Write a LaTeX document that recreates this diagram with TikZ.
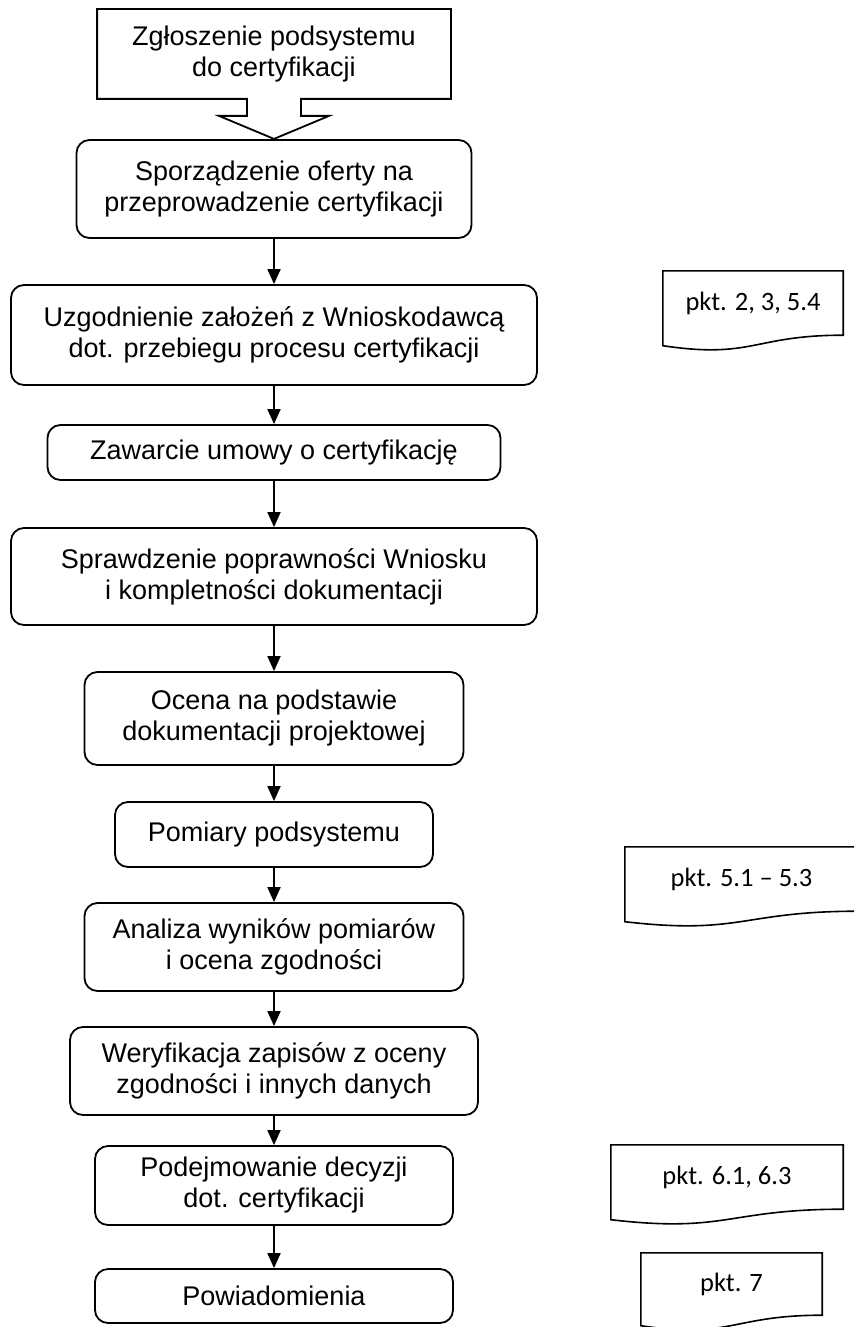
\documentclass[tikz,border=0pt]{standalone}
\usepackage{fontspec}
\setmainfont{Liberation Sans}
\newfontfamily\calibri{Carlito}
\usetikzlibrary{arrows.meta,calc}

% document symbol with a wavy lower edge
\newcommand{\dokpath}[1]{%
  \draw[line width=1.6pt] (#1.north west) -- (#1.north east) -- (#1.south east)
    .. controls (#1.south) and ($(#1.south)+(0,24)$) .. ($(#1.south west)+(0,10.5)$) -- cycle;}

\begin{document}
\begin{tikzpicture}[x=1pt,y=-1pt,
    box/.style={draw, line width=1.8pt, rounded corners=13pt, align=center, inner sep=0pt,
                font=\fontsize{27}{31}\selectfont},
    dok/.style={inner sep=0pt, minimum height=64pt, font=\calibri\fontsize{26.5}{31}\selectfont},
    arr/.style={line width=1.8pt, -{Triangle[width=13pt,length=15pt]}}]
    \useasboundingbox (0,0) rectangle (854,1327);
    \clip (0,0) rectangle (854,1327);

    \node[box, draw=none, minimum width=352pt, minimum height=88pt] (zgl) at (274,54) {Zgłoszenie podsystemu\\do certyfikacji};
    \draw[line width=1.8pt] (zgl.south west) -- (zgl.north west) -- (zgl.north east) -- (zgl.south east)
        -- ($(zgl.south)+(27,0)$) -- ++(0,17) -- ++(28,0) -- ($(zgl.south)+(0,40)$)
        -- ($(zgl.south)+(-55,17)$) -- ++(28,0) -- ++(0,-17) -- cycle;

    \node[box, minimum width=395pt, minimum height=98pt] (ofer) at (274,189) {Sporządzenie oferty na\\przeprowadzenie certyfikacji};
    \node[box, minimum width=526pt, minimum height=100pt] (uzg) at (274,335) {Uzgodnienie założeń z Wnioskodawcą\\dot. przebiegu procesu certyfikacji};
    \node[box, minimum width=453pt, minimum height=55pt] (umowa) at (274,452.5) {Zawarcie umowy o certyfikację};
    \node[box, minimum width=526pt, minimum height=97pt] (spr) at (274,576.5) {Sprawdzenie poprawności Wniosku\\i kompletności dokumentacji};
    \node[box, minimum width=379pt, minimum height=93pt] (ocena) at (274,718.5) {Ocena na podstawie\\dokumentacji projektowej};
    \node[box, minimum width=318pt, minimum height=65pt] (pom) at (274,834.5) {Pomiary podsystemu};
    \node[box, minimum width=379pt, minimum height=88pt] (anal) at (274,947) {Analiza wyników pomiarów\\i ocena zgodności};
    \node[box, minimum width=408pt, minimum height=88pt] (wer) at (274,1071) {Weryfikacja zapisów z oceny\\zgodności i innych danych};
    \node[box, minimum width=358pt, minimum height=79pt] (decyzja) at (274,1185.5) {Podejmowanie decyzji\\dot. certyfikacji};
    \node[box, minimum width=358pt, minimum height=54pt] (powiad) at (274,1296) {Powiadomienia};

    \foreach \a/\b in {ofer/uzg, uzg/umowa, umowa/spr, spr/ocena, ocena/pom, pom/anal, anal/wer, wer/decyzja, decyzja/powiad}
        \draw[arr] (\a.south) -- (\a.south |- \b.north);

    % references to the procedure
    \node[dok, minimum width=180pt] (pkt1) at (753,303) {pkt. 2, 3, 5.4};
    \node[dok, minimum width=233pt] (pkt2) at (741.5,879) {pkt. 5.1 – 5.3};
    \node[dok, minimum width=232pt] (pkt3) at (727,1177) {pkt. 6.1, 6.3};
    \node[dok, minimum width=181pt, minimum height=62pt] (pkt4) at (731.5,1284) {pkt. 7};
    \foreach \d in {pkt1,pkt2,pkt3,pkt4}
        \dokpath{\d};
\end{tikzpicture}
\end{document}
